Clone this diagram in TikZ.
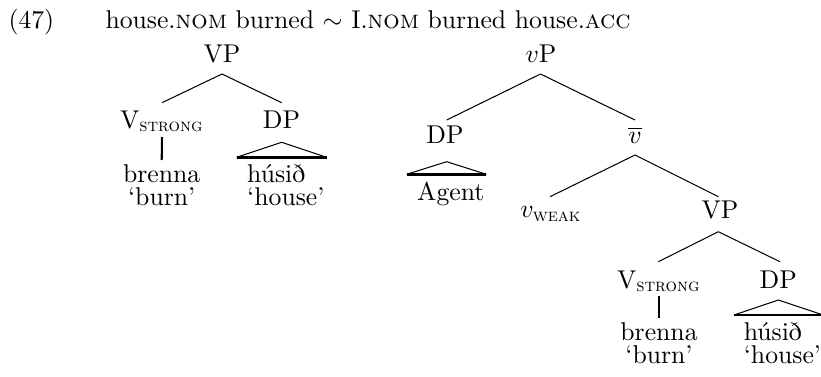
\documentclass[tikz,border=0pt]{standalone}
\usepackage{amsmath}
\usepackage{fontspec}
\usetikzlibrary{calc}
\begin{document}
\begin{tikzpicture}[x=0.389pt,y=-0.389pt,
  lbl/.style={inner sep=0pt, anchor=base},
  lft/.style={inner sep=0pt, anchor=base west},
  branch/.style={line width=0.4pt},
  roofside/.style={line width=0.4pt},
  roofbase/.style={line width=1pt},
  stem/.style={line width=0.8pt}]
\useasboundingbox (0,0) rectangle (821,376);
% heading
\node[lft] (ex) at (8,28) {(47)};
\node[lft] (title) at (105,28) {house.\textsc{nom} burned $\sim$ I.\textsc{nom} burned house.\textsc{acc}};
% left tree
\node[lbl] (VPa) at (222,62) {VP};
\node[lbl] (Vsa) at (162,128) {V$_{\text{\textsc{strong}}}$};
\node[lbl] (DPa) at (281.5,128) {DP};
\node[lbl] (brennaa) at (161.7,182) {brenna};
\node[lbl] (burna) at (161.7,205) {‘burn’};
\node[lft] (husida) at (246.7,182) {húsið};
\node[lft] (housea) at (246.7,205) {‘house’};
\coordinate (VPatop) at ($(VPa.base)+(0,12)$);
\draw[branch] (VPatop) -- ($(Vsa.base)+(0,-25.3)$);
\draw[branch] (VPatop) -- ($(DPa.base)+(0.2,-25.3)$);
\draw[stem] ($(Vsa.base)+(0,9)$) -- ($(brennaa.base)+(0,-22)$);
\coordinate (rapa) at ($(DPa.base)+(0.2,14.3)$);
\coordinate (rla) at ($(husida.base west)+(-10,-24.7)$);
\coordinate (rra) at ($(rla -| housea.east)+(1.5,0)$);
\draw[roofside] (rla) -- (rapa) -- (rra);
\draw[roofbase] (rla) -- (rra);
% right tree
\node[lbl] (vP) at (541,62) {$v$P};
\node[lbl] (DPb) at (445,143) {DP};
\node[lbl] (vbar) at (635,143) {$\overline{v}$};
\node[lft] (agent) at (416.7,200) {Agent};
\node[lbl] (vweak) at (551,217.5) {$v_{\text{\textsc{weak}}}$};
\node[lbl] (VPb) at (720,218) {VP};
\node[lbl] (Vsb) at (659,288) {V$_{\text{\textsc{strong}}}$};
\node[lbl] (DPc) at (778.3,288) {DP};
\node[lbl] (brennab) at (659,340) {brenna};
\node[lbl] (burnb) at (659,363) {‘burn’};
\node[lft] (husidb) at (743.3,340) {húsið};
\node[lft] (houseb) at (743.3,363) {‘house’};
\coordinate (vPtop) at ($(vP.base)+(-0.5,12)$);
\draw[branch] (vPtop) -- ($(DPb.base)+(1.7,-23)$);
\draw[branch] (vPtop) -- ($(vbar.base)+(0,-23)$);
\coordinate (vbartop) at ($(vbar.base)+(0,12)$);
\draw[branch] (vbartop) -- ($(vweak.base)+(-1,-20.8)$);
\draw[branch] (vbartop) -- ($(VPb.base)+(-1.7,-21.3)$);
\coordinate (VPbtop) at ($(VPb.base)+(-1.7,13.7)$);
\draw[branch] (VPbtop) -- ($(Vsb.base)+(-0.7,-26.3)$);
\draw[branch] (VPbtop) -- ($(DPc.base)+(1.7,-26.3)$);
\draw[stem] ($(Vsb.base)+(0,7.7)$) -- ($(brennab.base)+(0,-21.7)$);
\coordinate (rapb) at ($(DPb.base)+(1.7,18.7)$);
\coordinate (rlb) at ($(agent.base west)+(-10,-25.7)$);
\coordinate (rrb) at ($(rlb -| agent.east)+(1.5,0)$);
\draw[roofside] (rlb) -- (rapb) -- (rrb);
\draw[roofbase] (rlb) -- (rrb);
\coordinate (rapc) at ($(DPc.base)+(0,12)$);
\coordinate (rlc) at ($(husidb.base west)+(-9.3,-25)$);
\coordinate (rrc) at ($(rlc -| houseb.east)+(1.5,0)$);
\draw[roofside] (rlc) -- (rapc) -- (rrc);
\draw[roofbase] (rlc) -- (rrc);
\end{tikzpicture}
\end{document}
